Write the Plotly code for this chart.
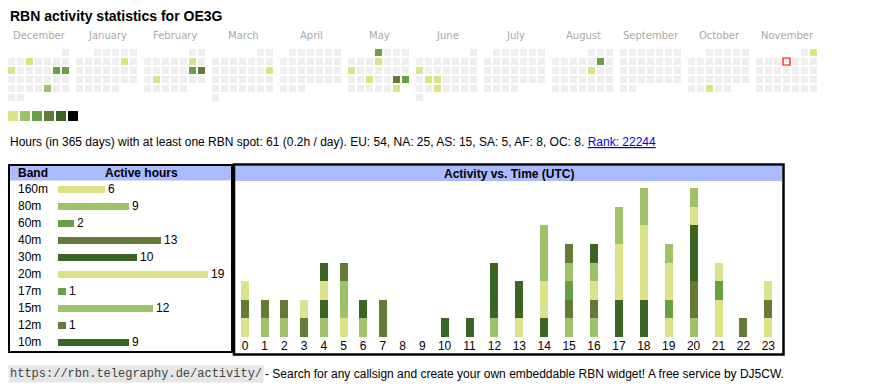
import datetime as dt
import plotly.graph_objects as go

# page body adds an 8px margin, so the figure covers window pixels 8..870 / 8..390
OFF = 8
W, H = 870 - OFF, 390 - OFF

# ---------------- data ----------------
LEVEL_COLORS = ["#dbe28a", "#9dc26a", "#66a044", "#657a38", "#3a6525", "#000000"]
EMPTY_COLOR = "#eeeeee"

CAL_MONTHS = [(2024, 12), (2025, 1), (2025, 2), (2025, 3), (2025, 4), (2025, 5),
              (2025, 6), (2025, 7), (2025, 8), (2025, 9), (2025, 10), (2025, 11)]
MONTH_NAMES = ["December", "January", "February", "March", "April", "May",
               "June", "July", "August", "September", "October", "November"]

# activity level (1..6) of days with RBN spots
ACTIVE_DATES = ["2024-12-04", "2024-12-09", "2024-12-14", "2024-12-15", "2024-12-27",
                "2025-01-11", "2025-02-08", "2025-02-15", "2025-02-16", "2025-02-18",
                "2025-03-16", "2025-05-01", "2025-05-08", "2025-05-12", "2025-05-21",
                "2025-05-24", "2025-05-25", "2025-05-31", "2025-06-09", "2025-06-17",
                "2025-06-18", "2025-06-25", "2025-08-09", "2025-08-15", "2025-10-29",
                "2025-11-02"]
ACTIVE_LEVELS = [1, 1, 3, 3, 2,
                 1, 1, 3, 4, 1,
                 1, 3, 1, 1, 1,
                 4, 3, 1, 1, 1,
                 1, 1, 3, 1, 1,
                 1]
TODAY = "2025-11-06"
LEGEND_LEVELS = [1, 2, 3, 4, 5, 6]

BANDS = ["160m", "80m", "60m", "40m", "30m", "20m", "17m", "15m", "12m", "10m"]
BAND_HOURS = [6, 9, 2, 13, 10, 19, 1, 12, 1, 9]
BAND_LEVEL = [1, 2, 3, 4, 5, 1, 3, 2, 4, 5]

HOURS = list(range(24))
ACT_160M = [1, 0, 0, 0, 0, 1, 0, 0, 0, 0, 0, 0, 0, 0, 0, 0, 0, 0, 0, 1, 0, 2, 0, 1]
ACT_80M = [0, 1, 1, 0, 1, 2, 1, 0, 0, 0, 0, 0, 0, 0, 0, 1, 1, 0, 0, 0, 1, 0, 0, 0]
ACT_60M = [0, 0, 0, 0, 0, 0, 0, 0, 0, 0, 0, 0, 0, 0, 0, 0, 0, 0, 0, 1, 0, 1, 0, 0]
ACT_40M = [1, 1, 1, 1, 0, 1, 0, 2, 0, 0, 0, 0, 0, 0, 0, 1, 1, 0, 0, 0, 2, 0, 1, 1]
ACT_30M = [0, 0, 0, 0, 1, 0, 1, 0, 0, 0, 0, 0, 0, 0, 1, 0, 0, 2, 2, 0, 3, 0, 0, 0]
ACT_20M = [1, 0, 0, 1, 1, 0, 0, 0, 0, 0, 0, 0, 0, 1, 2, 0, 1, 3, 4, 2, 1, 1, 0, 1]
ACT_17M = [0, 0, 0, 0, 0, 0, 0, 0, 0, 0, 0, 0, 0, 0, 0, 1, 0, 0, 0, 0, 0, 0, 0, 0]
ACT_15M = [0, 0, 0, 0, 0, 0, 0, 0, 0, 0, 0, 0, 1, 0, 3, 1, 1, 2, 2, 1, 1, 0, 0, 0]
ACT_12M = [0, 0, 0, 0, 0, 0, 0, 0, 0, 0, 0, 0, 0, 0, 0, 1, 0, 0, 0, 0, 0, 0, 0, 0]
ACT_10M = [0, 0, 0, 0, 1, 0, 0, 0, 0, 0, 1, 1, 3, 2, 0, 0, 1, 0, 0, 0, 0, 0, 0, 0]
ACTIVITY = [ACT_160M, ACT_80M, ACT_60M, ACT_40M, ACT_30M,
            ACT_20M, ACT_17M, ACT_15M, ACT_12M, ACT_10M]

TITLE = "RBN activity statistics for OE3G"
STATS = ("Hours (in 365 days) with at least one RBN spot: 61 (0.2h / day). "
         "EU: 54, NA: 25, AS: 15, SA: 5, AF: 8, OC: 8. ")
RANK = "Rank: 22244"
FOOT_URL = "https://rbn.telegraphy.de/activity/"
FOOT_TEXT = "- Search for any callsign and create your own embeddable RBN widget! A free service by DJ5CW."

# ---------------- layout constants (window pixels) ----------------
SANS = "Liberation Sans, Arial, sans-serif"
CAL_X0, CAL_Y0, CELL, MONTH_STEP = 8, 49, 9, 68
HEADER_BLUE = "#aabbff"


def fx(p):
    return (p - OFF) / W


def fy(p):
    return 1 - (p - OFF) / H


fig = go.Figure()

# ---- calendar cells ----
level_of = dict(zip(ACTIVE_DATES, ACTIVE_LEVELS))
cx, cy, cc = [], [], []
today_xy = None
for mi, (yr, mo) in enumerate(CAL_MONTHS):
    first = dt.date(yr, mo, 1)
    nxt = dt.date(yr + (mo == 12), mo % 12 + 1, 1)
    offset = first.weekday()
    d = first
    while d < nxt:
        row = (d.day - 1 + offset) // 7
        x = CAL_X0 + mi * MONTH_STEP + d.weekday() * CELL + 3.5
        y = CAL_Y0 + row * CELL + 3.5
        lvl = level_of.get(d.isoformat(), 0)
        cx.append(x)
        cy.append(y)
        cc.append(LEVEL_COLORS[lvl - 1] if lvl else EMPTY_COLOR)
        if d.isoformat() == TODAY:
            today_xy = (x, y)
        d += dt.timedelta(days=1)

fig.add_trace(go.Scatter(x=cx, y=cy, mode="markers", xaxis="x", yaxis="y",
                         marker=dict(symbol="square", size=7, color=cc, line=dict(width=0)),
                         hoverinfo="skip", showlegend=False))
fig.add_trace(go.Scatter(x=[today_xy[0]], y=[today_xy[1]], mode="markers", xaxis="x", yaxis="y",
                         marker=dict(symbol="square", size=7, color="#f4f4f4",
                                     line=dict(width=1.2, color="#ff0000")),
                         hoverinfo="skip", showlegend=False))

# ---- legend swatches ----
fig.add_trace(go.Scatter(x=[CAL_X0 + 5 + 12 * i for i in range(len(LEGEND_LEVELS))],
                         y=[116] * len(LEGEND_LEVELS), mode="markers", xaxis="x", yaxis="y",
                         marker=dict(symbol="square", size=10,
                                     color=[LEVEL_COLORS[l - 1] for l in LEGEND_LEVELS],
                                     line=dict(width=0)),
                         hoverinfo="skip", showlegend=False))

# ---- band table bars ----
fig.add_trace(go.Bar(y=BANDS, x=BAND_HOURS, orientation="h", xaxis="x2", yaxis="y2",
                     marker=dict(color=[LEVEL_COLORS[l - 1] for l in BAND_LEVEL], line=dict(width=0)),
                     width=0.41, text=[str(v) for v in BAND_HOURS], textposition="outside",
                     textfont=dict(family=SANS, size=12, color="#000"), cliponaxis=False,
                     constraintext="none", hoverinfo="skip", showlegend=False))

# ---- activity vs time bars ----
col_w = [19.7 if len(str(h)) == 1 else 24.9 for h in HOURS]
centers, acc = [], 235.15
for w in col_w:
    centers.append(acc + w / 2)
    acc += w

for band, lvl, vals in zip(BANDS, BAND_LEVEL, ACTIVITY):
    fig.add_trace(go.Bar(x=centers, y=vals, xaxis="x3", yaxis="y3", width=8,
                         marker=dict(color=LEVEL_COLORS[lvl - 1], line=dict(width=0)),
                         name=band, hoverinfo="skip", showlegend=False))

# ---------------- axes ----------------
hide = dict(showgrid=False, zeroline=False, showticklabels=False, ticks="", showline=False,
            fixedrange=True)
PX_H = 18.6
fig.update_layout(
    width=W, height=H, margin=dict(l=0, r=0, t=0, b=0),
    paper_bgcolor="white", plot_bgcolor="rgba(0,0,0,0)",
    barmode="stack", bargap=0,
    xaxis=dict(domain=[0, 1], range=[OFF, OFF + W], **hide),
    yaxis=dict(domain=[0, 1], range=[OFF + H, OFF], **hide),
    xaxis2=dict(domain=[fx(58), fx(232)], range=[0, 174 / 7.9], anchor="y2", **hide),
    yaxis2=dict(domain=[fy(350.5), fy(180.5)], type="category",
                categoryorder="array", categoryarray=BANDS, range=[9.5, -0.5],
                anchor="x2", **hide),
    xaxis3=dict(domain=[fx(233), fx(784)], range=[233, 784], anchor="y3",
                showgrid=False, zeroline=False, ticks="", showline=False, fixedrange=True,
                tickmode="array", tickvals=centers, ticktext=[str(h) for h in HOURS],
                tickfont=dict(family=SANS, size=12, color="#000")),
    yaxis3=dict(domain=[fy(337), fy(181)], range=[0, 156 / PX_H], anchor="x3", **hide),
)

# ---------------- boxes / headers ----------------
shapes = [
    dict(type="rect", xref="x", yref="y", x0=10, x1=231, y0=166, y1=180.5,
         fillcolor=HEADER_BLUE, line=dict(width=0), layer="below"),
    dict(type="rect", xref="x", yref="y", x0=235, x1=782, y0=166, y1=181,
         fillcolor=HEADER_BLUE, line=dict(width=0), layer="below"),
    dict(type="rect", xref="x", yref="y", x0=9, x1=232, y0=165, y1=352,
         line=dict(width=2, color="#000"), fillcolor="rgba(0,0,0,0)"),
    dict(type="rect", xref="x", yref="y", x0=234, x1=783.5, y0=164.5, y1=354.5,
         line=dict(width=2.5, color="#000"), fillcolor="rgba(0,0,0,0)"),
]
fig.update_layout(shapes=shapes)

# ---------------- texts ----------------
ann = []
ann.append(dict(x=8, y=16, xref="x", yref="y", text="<b>" + TITLE + "</b>", showarrow=False,
                xanchor="left", yanchor="middle", font=dict(family=SANS, size=14, color="#000")))
for mi, name in enumerate(MONTH_NAMES):
    ann.append(dict(x=CAL_X0 + mi * MONTH_STEP + 31, y=35, xref="x", yref="y", text=name,
                    showarrow=False, xanchor="center", yanchor="middle",
                    font=dict(family="DejaVu Sans", size=10, color="#a8a8a8")))
ann.append(dict(x=8, y=142, xref="x", yref="y",
                text=STATS + '<span style="color:#0000ee;text-decoration:underline">' + RANK + "</span>",
                showarrow=False, xanchor="left", yanchor="middle",
                font=dict(family=SANS, size=12, color="#000")))
ann.append(dict(x=16, y=173, xref="x", yref="y", text="<b>Band</b>", showarrow=False,
                xanchor="left", yanchor="middle", font=dict(family=SANS, size=12, color="#000")))
ann.append(dict(x=141.5, y=173, xref="x", yref="y", text="<b>Active hours</b>", showarrow=False,
                xanchor="center", yanchor="middle", font=dict(family=SANS, size=12, color="#000")))
ann.append(dict(x=508.5, y=173.5, xref="x", yref="y", text="<b>Activity vs. Time (UTC)</b>",
                showarrow=False, xanchor="center", yanchor="middle",
                font=dict(family=SANS, size=12, color="#000")))
for b in BANDS:
    ann.append(dict(x=16, y=b, xref="x", yref="y2", text=b, showarrow=False,
                    xanchor="left", yanchor="middle", font=dict(family=SANS, size=12, color="#000")))
ann.append(dict(x=8, y=374, xref="x", yref="y", text=FOOT_URL, showarrow=False,
                xanchor="left", yanchor="middle", bgcolor="#e6e6e6", borderpad=1,
                font=dict(family="Liberation Mono, monospace", size=12, color="#444")))
ann.append(dict(x=263, y=374, xref="x", yref="y", text=FOOT_TEXT, showarrow=False,
                xanchor="left", yanchor="middle", font=dict(family=SANS, size=12, color="#000")))
fig.update_layout(annotations=ann)

fig.write_html("out.html")
